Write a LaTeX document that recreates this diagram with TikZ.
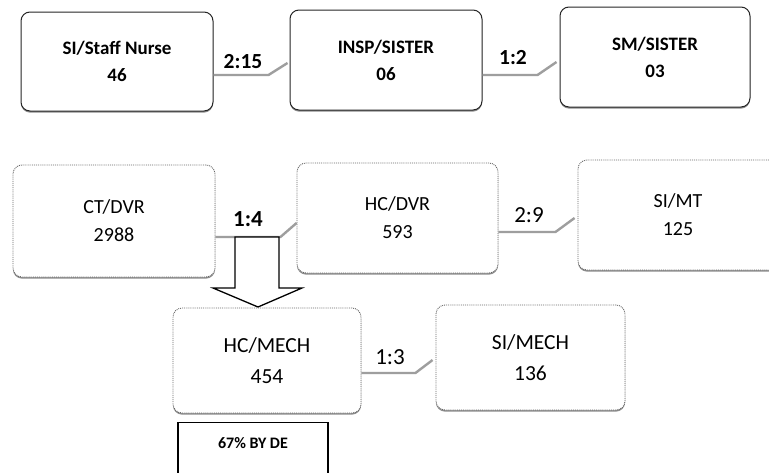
\documentclass[tikz,border=0pt]{standalone}
\usepackage{fontspec}
\setmainfont{Carlito}
\usetikzlibrary{calc,shadows}
\begin{document}
\begin{tikzpicture}[x=1pt,y=-1pt,
  boxbase/.style={fill=white, align=center, inner sep=0pt,
    drop shadow={shadow xshift=0pt,shadow yshift=-1.6pt,fill=black!45,opacity=1}},
  boxa/.style={boxbase, draw=black!85, line width=1pt, rounded corners=9pt,
    font=\fontsize{19}{27}\selectfont\bfseries},
  boxb/.style={boxbase, draw=black!60, line width=0.9pt, densely dotted, rounded corners=9pt,
    font=\fontsize{20}{28}\selectfont},
  boxc/.style={boxbase, draw=black!60, line width=0.9pt, densely dotted, rounded corners=9pt,
    font=\fontsize{21.5}{31}\selectfont},
  notebox/.style={draw=black, line width=1.3pt, fill=white, anchor=north,
    font=\fontsize{16}{20}\selectfont\bfseries, minimum width=150pt,
    text height=12pt, text depth=24pt, inner ysep=14pt},
  conn/.style={draw=black!38, line width=2.4pt},
  laba/.style={font=\fontsize{21.5}{24}\selectfont\bfseries, inner sep=1pt},
  labb/.style={font=\fontsize{23}{25}\selectfont, inner sep=1pt},
  blockarrow/.style={draw=black, line width=1.3pt, fill=white, line join=miter}
]
\path[use as bounding box, clip] (0,0) rectangle (769,472);
\fill[white] (0,0) rectangle (769,472);

% row 1
\node[boxa, minimum width=192pt, minimum height=99pt] (b1) at (117,61.5) {SI/Staff Nurse\\46};
\node[boxa, minimum width=192pt, minimum height=100pt] (b2) at (386,60) {INSP/SISTER\\06};
\node[boxa, minimum width=190pt, minimum height=100pt] (b3) at (655,57) {SM/SISTER\\03};

% row 2
\node[boxb, minimum width=202pt, minimum height=112pt] (b4) at (114,221) {CT/DVR\\2988};
\node[boxb, minimum width=201pt, minimum height=110pt] (b5) at (397.5,218) {HC/DVR\\593};
\node[boxb, minimum width=200pt, minimum height=110pt] (b6) at (678,215) {SI/MT\\125};

% row 3
\node[boxc, minimum width=188pt, minimum height=105pt] (b7) at (267,360.5) {HC/MECH\\454};
\node[boxc, minimum width=189pt, minimum height=105pt] (b8) at (530.5,357.5) {SI/MECH\\136};
\node[notebox] (b9) at (253,422) {67\% BY DE};

% connectors
\draw[conn] ($(b1.east)+(0,13.5)$) -- ++(55,0) -- ($(b2.west)+(-2,3)$);
\node[laba] (l1) at (243,61.5) {2:15};
\draw[conn] ($(b2.east)+(0,15)$) -- ++(55,0) -- ($(b3.west)+(-3,5)$);
\node[laba] (l2) at (513,58) {1:2};
\draw[conn] ($(b4.east)+(0,16)$) -- ++(65,0) -- ($(b5.west)+(0,5)$);
\node[laba, font=\fontsize{23}{25}\selectfont\bfseries] (l3) at (248,219) {1:4};
\draw[conn] ($(b5.east)+(0,14)$) -- ++(57,0) -- ($(b6.west)+(-3,3)$);
\node[labb] (l4) at (529,215) {2:9};
\draw[conn] ($(b7.east)+(0,12.5)$) -- ++(54,0) -- ($(b8.west)+(-3,2.5)$);
\node[labb] (l5) at (390,357) {1:3};

% block arrow
\draw[blockarrow] (235,237) -- (279,237) -- (279,288) -- (302,288) -- (258,307)
  -- (213,288) -- (235,288) -- cycle;
\end{tikzpicture}
\end{document}
